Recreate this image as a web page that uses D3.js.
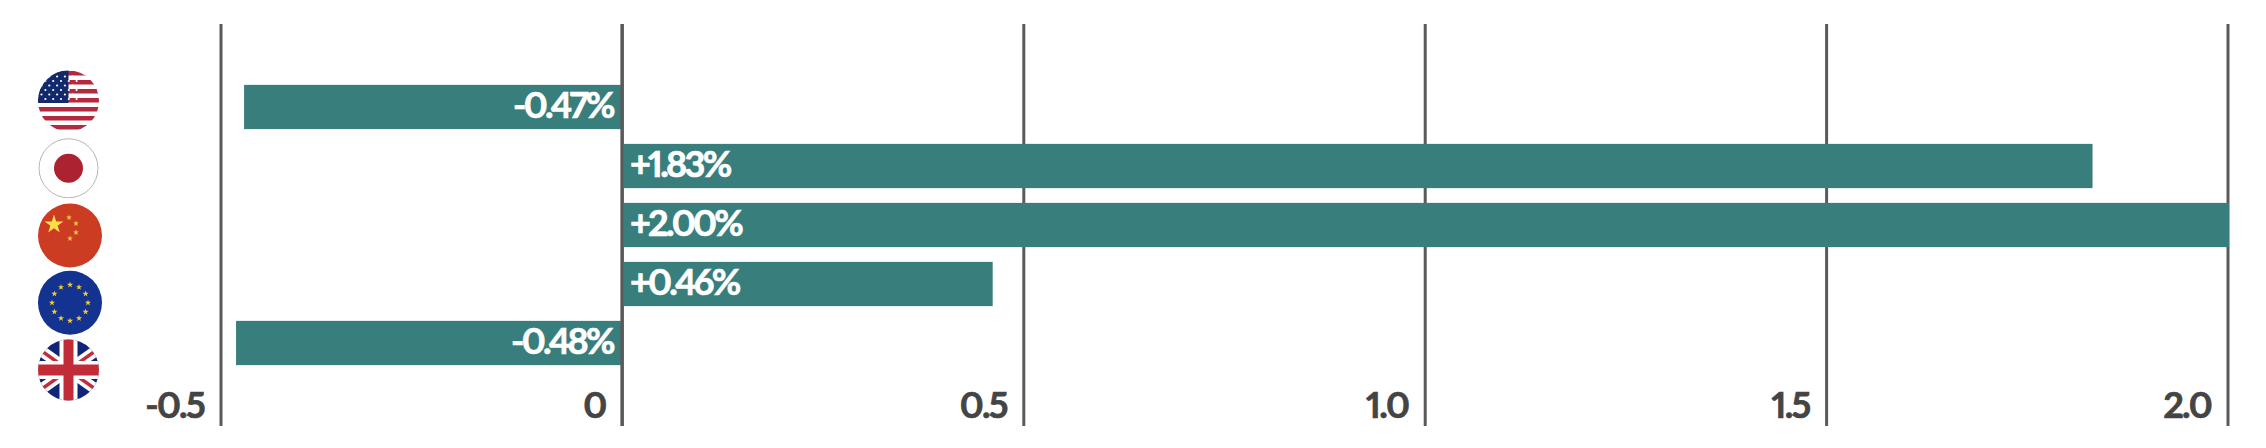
<!DOCTYPE html>
<html>
<head>
<meta charset="utf-8">
<script src="https://d3js.org/d3.v7.min.js"></script>
<style>
	html, body { margin: 0; padding: 0; background: #fff; }
	svg { display: block; }
	text { font-family: Lato, "Open Sans", sans-serif; font-weight: 700; font-variant-numeric: proportional-nums; font-feature-settings: "pnum" 1; }
</style>
</head>
<body>
<div id="chart"></div>
<script>
const countries = ["us", "jp", "cn", "eu", "uk"]
const values = [-0.47, 1.83, 2.00, 0.46, -0.48]
const value_labels = ["-0.47%", "+1.83%", "+2.00%", "+0.46%", "-0.48%"]
const tick_values = [-0.5, 0, 0.5, 1.0, 1.5, 2.0]
const tick_labels = ["-0.5", "0", "0.5", "1.0", "1.5", "2.0"]

const width = 2266
const height = 448
const bar_color = "#387e7c"
const line_color = "#5a5a5a"
const text_color = "#444444"

const svg = d3.select("#chart").append("svg")
	.attr("width", width)
	.attr("height", height)

const x_scale = d3.scaleLinear().domain([-0.5, 2.0]).range([220.5, 2227.5])
const y_scale = d3.scaleBand().domain(countries).range([77.5, 372.5]).paddingInner(0.25).paddingOuter(0.125)
const flag_scale = d3.scalePoint().domain(countries).range([101, 370])

// grid lines with tick labels
const x_axis = d3.axisBottom(x_scale)
	.tickValues(tick_values)
	.tickSize(-402)
	.tickFormat((d, i) => tick_labels[i])

const axis_g = svg.append("g")
	.attr("transform", "translate(0,426)")
	.call(x_axis)
axis_g.select(".domain").remove()
axis_g.selectAll("line").attr("stroke", line_color).attr("stroke-width", 3)
axis_g.selectAll("text")
	.attr("y", -8)
	.attr("dy", 0)
	.attr("x", -17)
	.attr("text-anchor", "end")
	.attr("fill", text_color)
	.attr("stroke", text_color)
	.attr("stroke-width", 0.7)
	.attr("font-size", 36)
	.attr("letter-spacing", -1.7)

// bars
svg.append("g").selectAll("rect")
	.data(values)
	.join("rect")
	.attr("x", d => d < 0 ? x_scale(d) - 0.5 : x_scale(0))
	.attr("y", (d, i) => y_scale(countries[i]))
	.attr("width", d => Math.abs(x_scale(d) - x_scale(0)) + 1.5)
	.attr("height", y_scale.bandwidth())
	.attr("fill", bar_color)

// zero line sits above the bars
svg.append("line")
	.attr("x1", x_scale(0))
	.attr("x2", x_scale(0))
	.attr("y1", 24)
	.attr("y2", 426)
	.attr("stroke", line_color)
	.attr("stroke-width", 3)

svg.append("g").selectAll("text")
	.data(values)
	.join("text")
	.attr("x", d => d < 0 ? x_scale(0) - 9 : x_scale(0) + 8)
	.attr("y", (d, i) => y_scale(countries[i]) + y_scale.bandwidth() / 2 + 11)
	.attr("text-anchor", d => d < 0 ? "end" : "start")
	.attr("fill", "#ffffff")
	.attr("stroke", "#ffffff")
	.attr("stroke-width", 0.7)
	.attr("font-size", 36)
	.attr("letter-spacing", -2.7)
	.text((d, i) => value_labels[i])

// flags, each drawn in a box of -30..30 around its centre
const star_path = d3.symbol().type(d3.symbolStar)

function flag_us(g) {
	g.append("rect").attr("x", -32).attr("y", -32).attr("width", 64).attr("height", 64).attr("fill", "#fff")
	d3.range(7).forEach(i => {
		g.append("rect").attr("x", -32).attr("y", -30 + i * 9).attr("width", 64).attr("height", 4.5).attr("fill", "#b5293f")
	})
	g.append("rect").attr("x", -32).attr("y", -32).attr("width", 32).attr("height", 34).attr("fill", "#12296b")
	d3.range(6).forEach(r => {
		d3.range(5).forEach(c => {
			g.append("circle")
				.attr("cx", -27 + c * 7.8 + (r % 2 ? 0 : -3.9) + 3.9)
				.attr("cy", -24.5 + r * 4.5)
				.attr("r", 1.1)
				.attr("fill", "#fff")
		})
	})
}

function flag_jp(g) {
	g.append("circle").attr("r", 29.5).attr("fill", "#fff").attr("stroke", "#b5b5b5").attr("stroke-width", 1)
	g.append("circle").attr("r", 14.5).attr("fill", "#ac2230")
}

function flag_cn(g) {
	g.append("rect").attr("x", -34).attr("y", -34).attr("width", 68).attr("height", 68).attr("fill", "#cc3c23")
	g.append("path").attr("d", star_path.size(110)()).attr("transform", "translate(-16,-11)").attr("fill", "#fde047")
	;[[-1, -18], [6, -12], [6, -3], [0, 3]].forEach(p => {
		g.append("path").attr("d", star_path.size(10)()).attr("transform", `translate(${p[0]},${p[1]})`).attr("fill", "#fbd13c")
	})
}

function flag_eu(g) {
	g.append("rect").attr("x", -34).attr("y", -34).attr("width", 68).attr("height", 68).attr("fill", "#14328f")
	d3.range(12).forEach(i => {
		const a = i * Math.PI / 6
		g.append("path")
			.attr("d", star_path.size(12)())
			.attr("transform", `translate(${18 * Math.sin(a)},${-18 * Math.cos(a)})`)
			.attr("fill", "#f2cf2f")
	})
}

function flag_uk(g) {
	g.append("rect").attr("x", -32).attr("y", -32).attr("width", 64).attr("height", 64).attr("fill", "#10257a")
	;[[-34, -24, 34, 24], [-34, 24, 34, -24]].forEach(p => {
		g.append("line").attr("x1", p[0]).attr("y1", p[1]).attr("x2", p[2]).attr("y2", p[3]).attr("stroke", "#fff").attr("stroke-width", 11)
		g.append("line").attr("x1", p[0]).attr("y1", p[1]).attr("x2", p[2]).attr("y2", p[3]).attr("stroke", "#c12c38").attr("stroke-width", 3.5)
	})
	g.append("rect").attr("x", -9).attr("y", -32).attr("width", 18).attr("height", 64).attr("fill", "#fff")
	g.append("rect").attr("x", -32).attr("y", -9).attr("width", 64).attr("height", 18).attr("fill", "#fff")
	g.append("rect").attr("x", -5).attr("y", -32).attr("width", 10).attr("height", 64).attr("fill", "#c12c38")
	g.append("rect").attr("x", -32).attr("y", -5.5).attr("width", 64).attr("height", 11).attr("fill", "#c12c38")
}

const flag_draw = { us: flag_us, jp: flag_jp, cn: flag_cn, eu: flag_eu, uk: flag_uk }
const flag_radius = { us: 30.5, jp: 30.5, cn: 32, eu: 32, uk: 30.5 }
const flag_x = { us: 68.5, jp: 68.5, cn: 70, eu: 70, uk: 68.5 }

const defs = svg.append("defs")
countries.forEach(c => {
	defs.append("clipPath").attr("id", "clip_" + c)
		.append("circle").attr("r", flag_radius[c])
	const g = svg.append("g")
		.attr("transform", `translate(${flag_x[c]},${flag_scale(c)})`)
		.attr("clip-path", `url(#clip_${c})`)
	flag_draw[c](g)
})
</script>
</body>
</html>
